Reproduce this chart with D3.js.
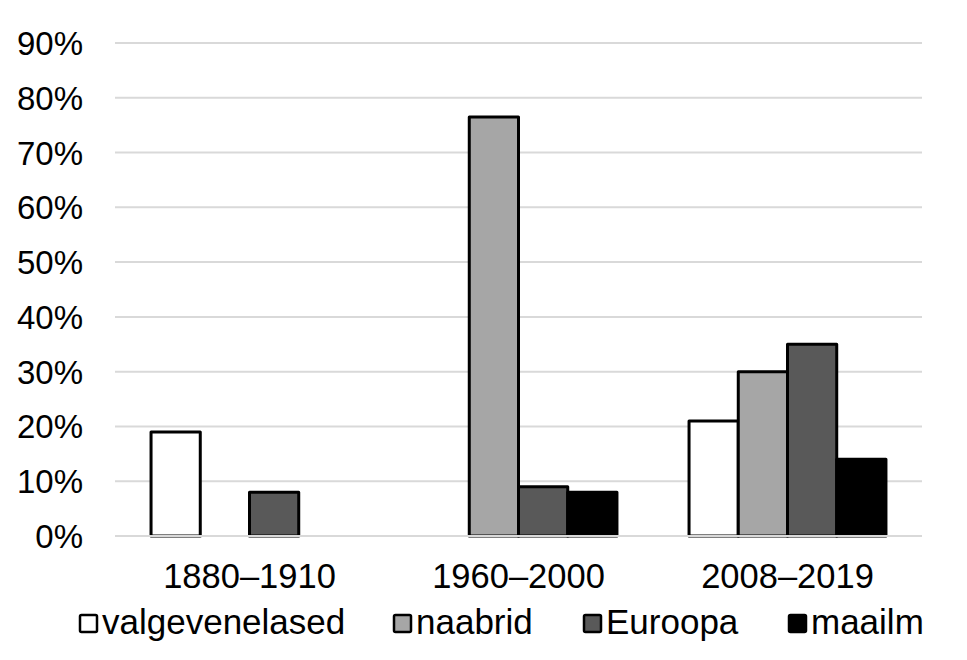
<!DOCTYPE html>
<html>
<head>
<meta charset="utf-8">
<script src="https://cdn.jsdelivr.net/npm/d3@7"></script>
<style>
  html, body { margin: 0; padding: 0; background: #fff; }
  svg { display: block; font-family: "Liberation Sans", Arial, sans-serif; }
</style>
</head>
<body>
<svg id="chart" width="967" height="660"></svg>
<script>
const categories = ["1880–1910", "1960–2000", "2008–2019"];
const seriesNames = ["valgevenelased", "naabrid", "Euroopa", "maailm"];
const valgevenelased = [19, 0, 21];
const naabrid = [0, 76.5, 30];
const euroopa = [8, 9, 35];
const maailm = [0, 8, 14];
const yTicks = [0, 10, 20, 30, 40, 50, 60, 70, 80, 90];
const seriesValues = [valgevenelased, naabrid, euroopa, maailm];
const colors = ["#ffffff", "#a6a6a6", "#595959", "#000000"];

(function () {
const svg = d3.select("#chart");
const plotLeft = 115, plotRight = 922, plotTop = 43, plotBottom = 536;

const y = d3.scaleLinear().domain([0, 90]).range([plotBottom, plotTop]);
const x0 = d3.scaleBand().domain(categories).range([plotLeft, plotRight])
  .paddingInner(0.268).paddingOuter(0.134);
const x1 = d3.scaleBand().domain(seriesNames).range([0, x0.bandwidth()]).padding(0);

// gridlines
svg.append("g").selectAll("line").data(yTicks.filter(d => d > 0)).join("line")
  .attr("x1", plotLeft).attr("x2", plotRight)
  .attr("y1", d => y(d)).attr("y2", d => y(d))
  .attr("stroke", "#d9d9d9").attr("stroke-width", 2);

// y labels
svg.append("g").selectAll("text").data(yTicks).join("text")
  .attr("x", 83).attr("y", d => y(d) + 12)
  .attr("text-anchor", "end")
  .attr("font-size", 33).attr("fill", "#000")
  .text(d => d + "%");

// bars
const data = [];
categories.forEach((c, i) => {
  seriesNames.forEach((s, j) => {
    data.push({ cat: c, ser: s, v: seriesValues[j][i], color: colors[j] });
  });
});
svg.append("g").selectAll("rect").data(data.filter(d => d.v > 0)).join("rect")
  .attr("x", d => x0(d.cat) + x1(d.ser))
  .attr("width", x1.bandwidth())
  .attr("y", d => y(d.v))
  .attr("height", d => y(0) - y(d.v))
  .attr("fill", d => d.color)
  .attr("stroke", "#000").attr("stroke-width", 3)
  .attr("stroke-linejoin", "round");

// zero line over bars
svg.append("line")
  .attr("x1", plotLeft).attr("x2", plotRight)
  .attr("y1", y(0)).attr("y2", y(0))
  .attr("stroke", "#d9d9d9").attr("stroke-width", 2);

// x labels
svg.append("g").selectAll("text").data(categories).join("text")
  .attr("x", d => x0(d) + x0.bandwidth() / 2)
  .attr("y", 588)
  .attr("text-anchor", "middle")
  .attr("font-size", 34.5).attr("fill", "#000")
  .text(d => d);

// legend
const legendX = [79, 393, 583, 788];
const lg = svg.append("g").selectAll("g").data(seriesNames).join("g")
  .attr("transform", (d, i) => `translate(${legendX[i]},0)`);
lg.append("rect")
  .attr("x", 1).attr("y", 615).attr("width", 17).attr("height", 17)
  .attr("fill", (d, i) => colors[i])
  .attr("stroke", "#000").attr("stroke-width", 2.5).attr("rx", 1.5);
lg.append("text")
  .attr("x", 23).attr("y", 634)
  .attr("font-size", 35).attr("fill", "#000")
  .text(d => d);
})();
</script>
</body>
</html>
